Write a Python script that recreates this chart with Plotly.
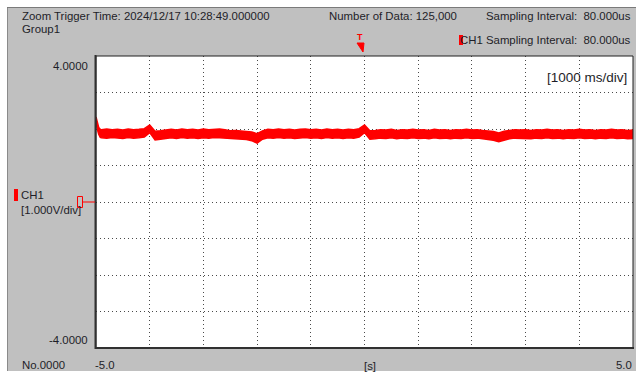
import plotly.graph_objects as go

# ---- data (CH1 band envelope, volts) ----
time_s = [-5.0, -4.98, -4.95, -4.92,
          -4.9, -4.8, -4.7, -4.6, -4.5, -4.4, -4.3, -4.2, -4.1, -4.0,
          -3.9, -3.8, -3.7, -3.6, -3.5, -3.4, -3.3, -3.2, -3.1, -3.0,
          -2.9, -2.8, -2.7, -2.6, -2.5, -2.4, -2.3, -2.2, -2.1, -2.0,
          -1.9, -1.8, -1.7, -1.6, -1.5, -1.4, -1.3, -1.2, -1.1, -1.0,
          -0.9, -0.8, -0.7, -0.6, -0.5, -0.4, -0.3, -0.2, -0.1, 0.0,
          0.1, 0.2, 0.3, 0.4, 0.5, 0.6, 0.7, 0.8, 0.9, 1.0,
          1.1, 1.2, 1.3, 1.4, 1.5, 1.6, 1.7, 1.8, 1.9, 2.0,
          2.1, 2.2, 2.3, 2.4, 2.5, 2.6, 2.7, 2.8, 2.9, 3.0,
          3.1, 3.2, 3.3, 3.4, 3.5, 3.6, 3.7, 3.8, 3.9, 4.0,
          4.1, 4.2, 4.3, 4.4, 4.5, 4.6, 4.7, 4.8, 4.9, 5.0]

ch1_upper = [2.33, 2.20, 2.04, 1.99,
             1.98, 2.00, 1.98, 1.99, 1.97, 2.00, 1.98, 1.99, 2.01, 2.11,
             1.94, 1.95, 1.98, 1.99, 1.97, 2.00, 1.98, 1.99, 1.97, 2.00,
             1.98, 1.99, 2.00, 1.98, 1.95, 1.96, 1.95, 1.94, 1.92, 1.87,
             1.95, 1.99, 1.98, 2.00, 1.98, 1.99, 1.97, 1.99, 2.00, 1.98,
             1.99, 1.97, 2.00, 1.98, 1.99, 1.97, 1.99, 1.98, 2.01, 2.11,
             1.95, 1.96, 1.98, 1.97, 1.99, 1.96, 1.98, 1.97, 1.99, 1.97,
             1.98, 1.96, 1.99, 1.97, 1.98, 1.96, 1.98, 1.97, 1.99, 1.97,
             1.98, 1.96, 1.95, 1.93, 1.89, 1.94, 1.96, 1.98, 1.97, 1.98,
             1.96, 1.98, 1.97, 1.99, 1.97, 1.98, 1.96, 1.98, 1.97, 1.99,
             1.97, 1.98, 1.96, 1.98, 1.97, 1.99, 1.97, 1.98, 1.96, 1.97]

ch1_lower = [2.22, 2.02, 1.86, 1.77,
             1.76, 1.75, 1.77, 1.76, 1.74, 1.77, 1.75, 1.76, 1.78, 1.90,
             1.70, 1.72, 1.75, 1.76, 1.74, 1.77, 1.75, 1.76, 1.74, 1.76,
             1.75, 1.77, 1.76, 1.75, 1.73, 1.74, 1.72, 1.71, 1.68, 1.61,
             1.72, 1.76, 1.75, 1.77, 1.75, 1.76, 1.74, 1.76, 1.77, 1.75,
             1.76, 1.74, 1.77, 1.75, 1.76, 1.74, 1.76, 1.75, 1.78, 1.90,
             1.72, 1.73, 1.75, 1.74, 1.76, 1.73, 1.75, 1.74, 1.76, 1.74,
             1.75, 1.73, 1.76, 1.74, 1.75, 1.73, 1.75, 1.74, 1.76, 1.74,
             1.75, 1.73, 1.72, 1.69, 1.65, 1.70, 1.73, 1.75, 1.74, 1.75,
             1.73, 1.75, 1.74, 1.76, 1.74, 1.75, 1.73, 1.75, 1.74, 1.76,
             1.74, 1.75, 1.73, 1.75, 1.74, 1.76, 1.74, 1.75, 1.73, 1.74]

x_range = [-5.0, 5.0]
y_range = [-4.0, 4.0]
header_left = ["Zoom Trigger Time: 2024/12/17 10:28:49.000000", "Group1"]
header_mid = "Number of Data: 125,000"
header_right = ["Sampling Interval:  80.000us", "CH1 Sampling Interval:  80.000us"]
y_labels = ["4.0000", "-4.0000"]
x_labels = ["-5.0", "[s]", "5.0"]
ch_labels = ["CH1", "[1.000V/div]"]
div_label = "[1000 ms/div]"
record_label = "No.0000"

# ---- layout geometry (pixels) ----
W, H = 636, 379
L, R, T, B = 96, 633, 56, 348


def px(x):
    return (x - L) / (R - L)


def py(y):
    return (B - y) / (B - T)


FONT = "Liberation Sans, Arial, sans-serif"
TXT = "#1e1e28"
RED = "#ff0000"

fig = go.Figure()
fig.add_trace(go.Scatter(x=time_s, y=ch1_upper, mode="lines",
                         line=dict(color=RED, width=1.5), hoverinfo="skip",
                         showlegend=False))
fig.add_trace(go.Scatter(x=time_s, y=ch1_lower, mode="lines",
                         line=dict(color=RED, width=1.5), fill="tonexty",
                         fillcolor=RED, hoverinfo="skip", showlegend=False))

ann = []


def text(s, x, y, anchor="left", size=11.4, color=TXT):
    ann.append(dict(text=s, x=px(x), y=py(y), xref="paper", yref="paper",
                    xanchor=anchor, yanchor="middle", showarrow=False,
                    font=dict(family=FONT, size=size, color=color)))


text(header_left[0], 20, 16)
text(header_left[1], 20, 29)
text(header_mid, 327, 16)
text(header_right[0], 633, 16, "right")
text(header_right[1], 633, 40, "right")
text(y_labels[0], 90, 66, "right")
text(y_labels[1], 90, 340, "right")
text(ch_labels[0], 19, 195)
text(ch_labels[1], 19, 210)
text(record_label, 20, 365)
text(x_labels[0], 93, 365)
text(x_labels[1], 370, 366, "center")
text(x_labels[2], 634, 365, "right")
text(div_label, 629, 78, "right", size=13.5)
text("<b>T</b>", 360, 37, "center", size=9, color=RED)

shapes = []
# white margins around the grey panel
shapes.append(dict(type="rect", xref="paper", yref="paper", x0=px(-20), x1=px(660),
                   y0=py(7), y1=py(-20), fillcolor="white", line_width=0))
shapes.append(dict(type="rect", xref="paper", yref="paper", x0=px(-20), x1=px(7),
                   y0=py(400), y1=py(-20), fillcolor="white", line_width=0))
shapes.append(dict(type="rect", xref="paper", yref="paper", x0=px(-20), x1=px(660),
                   y0=py(400), y1=py(371), fillcolor="white", line_width=0))
shapes.append(dict(type="line", xref="paper", yref="paper", x0=px(7.5), x1=px(7.5),
                   y0=py(7), y1=py(371), line=dict(color="#8a8a8a", width=1)))
shapes.append(dict(type="line", xref="paper", yref="paper", x0=px(7), x1=px(636),
                   y0=py(7.5), y1=py(7.5), line=dict(color="#7a7a7a", width=1)))
# plot border
shapes.append(dict(type="rect", xref="paper", yref="paper", x0=0, x1=1, y0=0, y1=1,
                   line=dict(color="#202020", width=1)))
shapes.append(dict(type="line", xref="paper", yref="paper", x0=px(95), x1=px(634),
                   y0=py(348), y1=py(348), line=dict(color="#303030", width=2)))
shapes.append(dict(type="line", xref="paper", yref="paper", x0=px(95.5), x1=px(95.5),
                   y0=py(55), y1=py(349), line=dict(color="#303030", width=2)))
# CH1 colour markers
shapes.append(dict(type="rect", xref="paper", yref="paper", x0=px(14), x1=px(18),
                   y0=py(201), y1=py(189), fillcolor=RED, line_width=0))
shapes.append(dict(type="rect", xref="paper", yref="paper", x0=px(459), x1=px(463),
                   y0=py(45), y1=py(35), fillcolor=RED, line_width=0))
# ground level marker (outlined tab) and line
shapes.append(dict(type="rect", xref="paper", yref="paper", x0=px(77.5), x1=px(82.5),
                   y0=py(207.5), y1=py(196.5), line=dict(color=RED, width=1)))
shapes.append(dict(type="line", xref="paper", yref="paper", x0=px(83), x1=px(95),
                   y0=py(202), y1=py(202), line=dict(color=RED, width=1)))
# trigger marker triangle
shapes.append(dict(type="path", xref="paper", yref="paper",
                   path=f"M {px(357)},{py(43)} L {px(364)},{py(43)} L {px(363)},{py(52)} Z",
                   fillcolor=RED, line=dict(color=RED, width=1)))

grid = dict(showgrid=True, gridcolor="#4a4a4a", gridwidth=1, griddash="1px,3px",
            zeroline=False, showticklabels=False, ticks="", showline=False)

fig.update_layout(
    width=W, height=H,
    margin=dict(l=L, r=W - R, t=T, b=H - B, pad=0),
    paper_bgcolor="#c0c0c0", plot_bgcolor="white",
    xaxis=dict(range=x_range, dtick=1, tick0=-5, **grid),
    yaxis=dict(range=y_range, dtick=1, tick0=-4, **grid),
    annotations=ann, shapes=shapes, showlegend=False,
)

fig.write_html("out.html")
